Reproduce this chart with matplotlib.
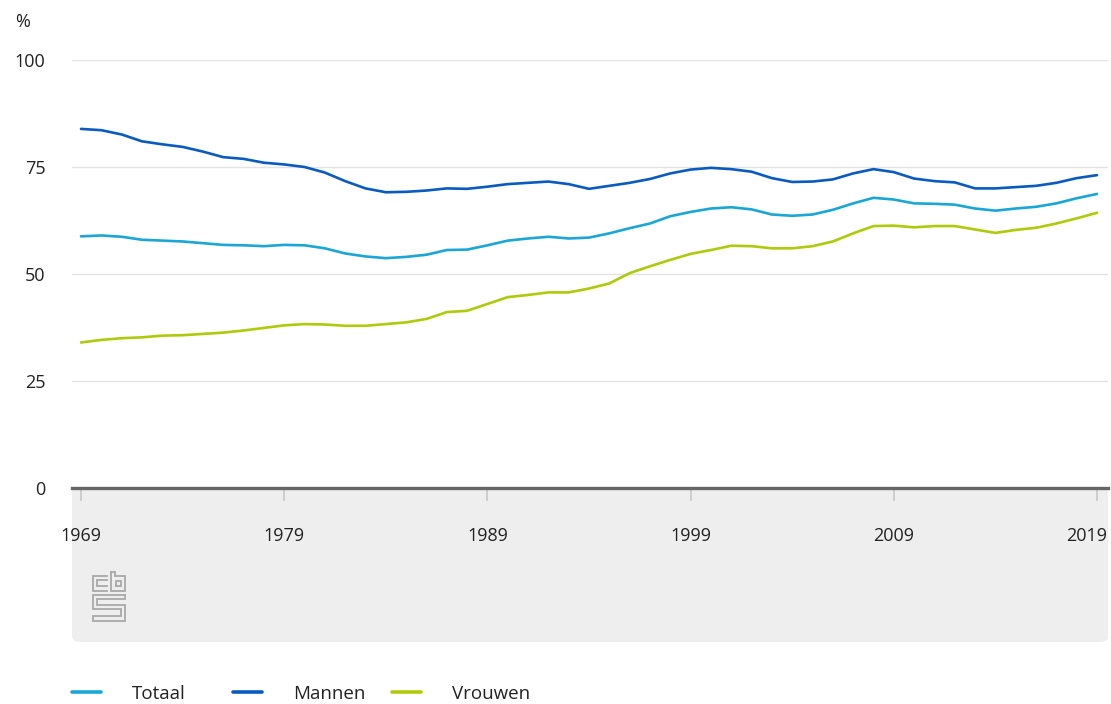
import matplotlib
matplotlib.use("Agg")
import matplotlib.pyplot as plt
import matplotlib.transforms as mtransforms
from matplotlib.patches import FancyBboxPatch

years = list(range(1969, 2020))
totaal = [58.8, 59.0, 58.7, 58.0, 57.8, 57.6, 57.2, 56.8, 56.7, 56.5,
          56.8, 56.7, 56.0, 54.8, 54.1, 53.7, 54.0, 54.5, 55.6, 55.7,
          56.7, 57.8, 58.3, 58.7, 58.3, 58.5, 59.5, 60.7, 61.8, 63.5,
          64.5, 65.3, 65.6, 65.1, 63.9, 63.6, 63.9, 65.0, 66.5, 67.8,
          67.4, 66.5, 66.4, 66.2, 65.3, 64.8, 65.3, 65.7, 66.5, 67.7, 68.7]
mannen = [83.9, 83.6, 82.6, 81.0, 80.3, 79.7, 78.6, 77.3, 76.9, 76.0,
          75.6, 75.0, 73.7, 71.7, 70.0, 69.1, 69.2, 69.5, 70.0, 69.9,
          70.4, 71.0, 71.3, 71.6, 71.0, 69.9, 70.6, 71.3, 72.2, 73.5,
          74.4, 74.8, 74.5, 73.9, 72.4, 71.5, 71.6, 72.1, 73.5, 74.5,
          73.8, 72.3, 71.7, 71.4, 70.0, 70.0, 70.3, 70.6, 71.3, 72.4, 73.1]
vrouwen = [34.0, 34.6, 35.0, 35.2, 35.6, 35.7, 36.0, 36.3, 36.8, 37.4,
           38.0, 38.3, 38.2, 37.9, 37.9, 38.3, 38.7, 39.5, 41.1, 41.4,
           43.0, 44.6, 45.1, 45.7, 45.7, 46.6, 47.8, 50.2, 51.8, 53.3,
           54.7, 55.6, 56.6, 56.5, 56.0, 56.0, 56.5, 57.6, 59.5, 61.2,
           61.3, 60.9, 61.2, 61.2, 60.4, 59.6, 60.3, 60.8, 61.8, 63.0, 64.3]
series_names = ["Totaal", "Mannen", "Vrouwen"]
colors = ["#1aa6d6", "#0a5bbf", "#afca0b"]
xticks = [1969, 1979, 1989, 1999, 2009, 2019]
yticks = [0, 25, 50, 75, 100]

plt.rcParams['font.family'] = ['Open Sans', 'DejaVu Sans']

W, H = 1111, 704
fig = plt.figure(figsize=(W / 100, H / 100), dpi=100)

def fx(px):
    return px / W

def fy(py):
    return 1 - py / H

# grey box below the axis
box = FancyBboxPatch((fx(72), fy(642)), fx(1108) - fx(72), fy(478) - fy(642),
                     boxstyle="round,pad=0,rounding_size=0.008",
                     transform=fig.transFigure, facecolor="#eeeeee",
                     edgecolor="none", zorder=-5)
fig.patches.append(box)

ax = fig.add_axes([fx(72), fy(488), fx(1108) - fx(72), fy(60) - fy(488)])
ax.set_facecolor("white")
ax.set_zorder(1)

lines = []
for name, vals, c in zip(series_names, [totaal, mannen, vrouwen], colors):
    ln, = ax.plot(years, vals, color=c, lw=1.9, label=name, solid_joinstyle="round",
                  solid_capstyle="round")
    lines.append(ln)

x0 = 1969 - 9 / 20.32
x1 = 2019 + 11 / 20.32
ax.set_xlim(x0, x1)
ax.set_ylim(0, 100)

ax.set_yticks(yticks)
ax.set_yticklabels([str(v) for v in yticks])
ax.grid(axis="y", color="#e3e3e3", lw=1)
ax.set_axisbelow(True)
ax.tick_params(axis="y", length=0, pad=19, labelsize=13, labelcolor="#222222")

ax.set_xticks(xticks)
ax.set_xticklabels([str(v) for v in xticks])
ax.tick_params(axis="x", length=9, width=1.2, color="#c8c8c8", pad=19,
               labelsize=13, labelcolor="#222222", direction="out")
# shift last label so it fits in the box
lab = ax.get_xticklabels()[-1]
lab.set_transform(lab.get_transform() +
                  mtransforms.ScaledTranslation(-10 / 100, 0, fig.dpi_scale_trans))

for s in ["top", "right", "left"]:
    ax.spines[s].set_visible(False)
ax.spines["bottom"].set_color("#666666")
ax.spines["bottom"].set_linewidth(2.4)
ax.spines["bottom"].set_zorder(5)

fig.text(fx(15), fy(22), "%", fontsize=13, color="#222222", va="center", ha="left")

# CBS logo (simplified)
lax = fig.add_axes([fx(92), fy(622), fx(126) - fx(92), fy(571) - fy(622)])
lax.set_xlim(-0.3, 10.3)
lax.set_ylim(-0.3, 15.3)
lax.axis("off")
lc = "#a9a9a9"
lw = 1.3
segs = [
    # c
    [(4.5, 13.8), (0, 13.8), (0, 9.2), (4.5, 9.2)],
    [(4.5, 12.4), (1.4, 12.4), (1.4, 10.6), (4.5, 10.6)],
    # b
    [(5.6, 15), (5.6, 9.2), (10, 9.2), (10, 13.8), (7.0, 13.8), (7.0, 15), (5.6, 15)],
    [(7.2, 10.6), (8.6, 10.6), (8.6, 12.2), (7.2, 12.2), (7.2, 10.6)],
    # s
    [(10, 8.0), (0, 8.0), (0, 3.6), (8.6, 3.6), (8.6, 1.4), (0, 1.4), (0, 0), (10, 0),
     (10, 5.0), (1.4, 5.0), (1.4, 6.6), (10, 6.6), (10, 8.0)],
]
for sg in segs:
    xs, ys = zip(*sg)
    lax.plot(xs, ys, color=lc, lw=lw, solid_joinstyle="miter")

# legend: one entry per fixed-width column
legend_x = [72, 233, 392]
for ln, name, lx in zip(lines, series_names, legend_x):
    leg = fig.legend([ln], [name], loc="center left",
                     bbox_to_anchor=(fx(lx), fy(694)), frameon=False,
                     fontsize=13.5, handlelength=1.55, handletextpad=1.65,
                     labelcolor="#222222", borderpad=0, borderaxespad=0)
    for t in leg.get_lines():
        t.set_linewidth(2.6)

fig.savefig("out.png", dpi=100)
